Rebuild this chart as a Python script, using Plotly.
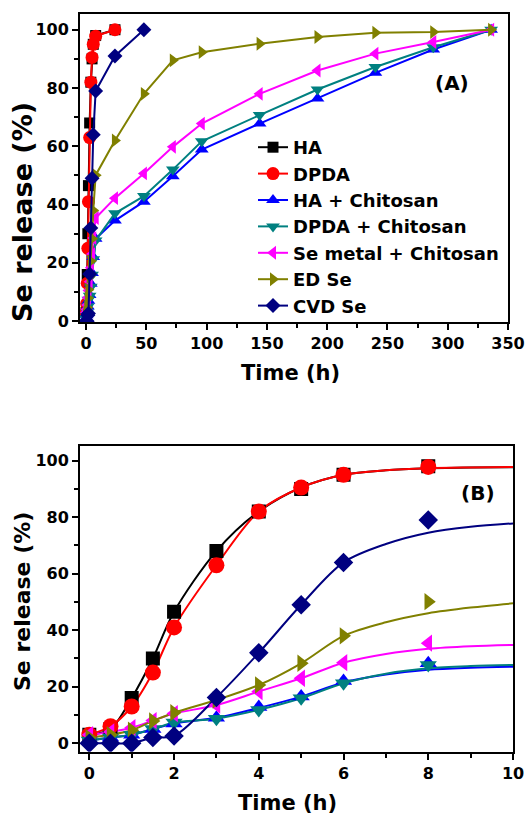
import plotly.graph_objects as go

W, H = 527, 814

# ---------------- data ----------------
names = ["HA", "DPDA", "HA + Chitosan", "DPDA + Chitosan", "Se metal + Chitosan", "ED Se", "CVD Se"]
colors = ["#000000", "#ff0000", "#0000ff", "#008080", "#ff00ff", "#808000", "#000080"]
symbols_a = ["square", "circle", "triangle-up", "triangle-down", "triangle-left", "triangle-right", "diamond"]

time_a = [0, 0.5, 1, 1.5, 2, 3, 4, 5, 6, 8, 24, 48, 72, 96, 144, 192, 240, 288, 336]
ha = [3, 5, 16, 30, 46.5, 68, 82, 90, 95, 98, 100]
dpda = [3, 6, 13, 25, 41, 63, 82, 90.5, 95, 97.8, 100]
ha_chit = [1, 2, 3, 5, 7, 9, 12.8, 16.5, 22, 28.3, 34.5, 41, 49.7, 58.9, 67.8, 76.4, 85.2, 93.2, 100]
dpda_chit = [1, 2, 3, 5, 7.3, 8.7, 11.8, 15.9, 21.2, 27.7, 37, 42.9, 52, 61.7, 70.7, 79.5, 87.2, 94, 100]
se_chit = [3, 4, 5.5, 8, 10.5, 13.5, 18.3, 23, 28.5, 35.4, 42.2, 50.7, 59.8, 67.8, 78, 86, 91.8, 95.8, 100]
ed_se = [2, 3, 4.6, 7.9, 10.8, 15.3, 20.6, 28.3, 38, 50.1, 62, 78, 89.5, 92.3, 95.2, 97.5, 99, 99.2, 100]
cvd_se = [0, 0, 0, 2, 2.6, 16.2, 32, 49, 64, 79, 91, 100]
series = [ha, dpda, ha_chit, dpda_chit, se_chit, ed_se, cvd_se]

# panel B: first 10 time points (0-8 h) and fitted curves
n_b = 10
time_fit = [0, 0.5, 1, 1.5, 2, 3, 4, 5, 6, 7, 8, 9, 10]
fit_ha = [3, 5, 16, 30, 46.5, 68, 82, 90.5, 95, 96.6, 97.3, 97.6, 97.7]
fit_dpda = [3, 6, 13, 25, 41, 63, 82, 90.5, 95, 96.6, 97.3, 97.6, 97.8]
fit_ha_chit = [1, 2, 3, 5, 7, 9, 12.5, 16.5, 21.5, 24.3, 26, 26.7, 27.1]
fit_dpda_chit = [1, 2, 3, 5, 7.3, 8.7, 11.8, 15.9, 21.2, 24.6, 26.5, 27.3, 27.7]
fit_se_chit = [3, 4, 5.5, 8, 10.5, 13.5, 18.3, 23, 28.5, 31.6, 33.4, 34.3, 34.8]
fit_ed_se = [2, 3, 4.6, 7.9, 10.8, 15.3, 20.6, 28.3, 38, 42.8, 46, 48, 49.5]
fit_cvd_se = [0, 0, 0, 2, 2.6, 16.2, 32, 49, 64, 70.5, 74.5, 76.6, 77.8]
fits = [fit_ha, fit_dpda, fit_ha_chit, fit_dpda_chit, fit_se_chit, fit_ed_se, fit_cvd_se]

size_a = [11, 13, 12, 12, 12, 12, 11.5]
size_b = [14, 16, 15, 15, 15, 15, 15]

fig = go.Figure()

# ---------------- panel A ----------------
for i, (nm, col, sym, ys) in enumerate(zip(names, colors, symbols_a, series)):
    fig.add_trace(go.Scatter(
        x=time_a[:len(ys)], y=ys, mode="lines+markers", name=nm,
        line=dict(color=col, width=2),
        marker=dict(symbol=sym, size=size_a[i], color=col, line=dict(width=0)),
        xaxis="x", yaxis="y", showlegend=True))

# ---------------- panel B ----------------
for i, (col, fy) in enumerate(zip(colors, fits)):
    fig.add_trace(go.Scatter(
        x=time_fit, y=fy, mode="lines", line=dict(color=col, width=2, shape="spline", smoothing=0.9),
        xaxis="x2", yaxis="y2", showlegend=False, hoverinfo="skip"))
for i, (col, sym, ys) in enumerate(zip(colors, symbols_a, series)):
    fig.add_trace(go.Scatter(
        x=time_a[:n_b], y=ys[:n_b], mode="markers",
        marker=dict(symbol=sym, size=size_b[i], color=col, line=dict(width=0)),
        xaxis="x2", yaxis="y2", showlegend=False))

tickfont = dict(family="DejaVu Sans", size=16, color="black", weight="bold")
axcommon = dict(showline=True, linecolor="black", linewidth=2, mirror=True,
                ticks="outside", ticklen=6, tickwidth=1.5, tickcolor="black",
                showgrid=False, zeroline=False, tickfont=tickfont, automargin=False)

def px_x(p):
    return p / W

def px_y(p):
    return 1 - p / H

fig.update_layout(
    width=W, height=H, margin=dict(l=0, r=0, t=0, b=0, autoexpand=False),
    paper_bgcolor="white", plot_bgcolor="white",
    xaxis=dict(domain=[px_x(80), px_x(508)], range=[-5, 350], tickmode="array",
               tickvals=[0, 50, 100, 150, 200, 250, 300, 350],
               minor=dict(ticks="outside", ticklen=4, tickwidth=1.5, tickcolor="black", dtick=25, tick0=25),
               anchor="y", **axcommon),
    yaxis=dict(domain=[px_y(322), px_y(14)], range=[-0.3, 105.4], tickvals=[0, 20, 40, 60, 80, 100],
               minor=dict(ticks="outside", ticklen=4, tickwidth=1.5, tickcolor="black", dtick=10, tick0=10),
               anchor="x", **axcommon),
    xaxis2=dict(domain=[px_x(80), px_x(513)], range=[-0.22, 10], tickvals=[0, 2, 4, 6, 8, 10],
                minor=dict(ticks="outside", ticklen=4, tickwidth=1.5, tickcolor="black", dtick=1, tick0=1),
                anchor="y2", **axcommon),
    yaxis2=dict(domain=[px_y(751.7), px_y(445.7)], range=[-3, 105.3], tickvals=[0, 20, 40, 60, 80, 100],
                minor=dict(ticks="outside", ticklen=4, tickwidth=1.5, tickcolor="black", dtick=10, tick0=10),
                anchor="x2", **axcommon),
    legend=dict(x=px_x(253), y=px_y(129), xanchor="left", yanchor="top",
                bgcolor="rgba(0,0,0,0)", borderwidth=0, tracegroupgap=0,
                font=dict(family="DejaVu Sans", size=18, color="black", weight="bold")),
    showlegend=True,
)

def ann(text, x, y, size, angle=0):
    fig.add_annotation(text=text, x=px_x(x), y=px_y(y), xref="paper", yref="paper",
                       showarrow=False, textangle=angle, xanchor="center", yanchor="middle",
                       font=dict(family="DejaVu Sans", size=size, color="black", weight="bold"))

ann("Se release (%)", 22, 212, 27, -90)
ann("Time (h)", 290, 373, 21)
ann("Se release (%)", 22, 602, 22, -90)
ann("Time (h)", 287, 803, 21)
ann("(A)", 452, 83, 20)
ann("(B)", 478, 493, 20)

fig.write_html("out.html", config={"displayModeBar": False},
               post_script="document.body.style.margin='0px';document.body.style.padding='0px';")
